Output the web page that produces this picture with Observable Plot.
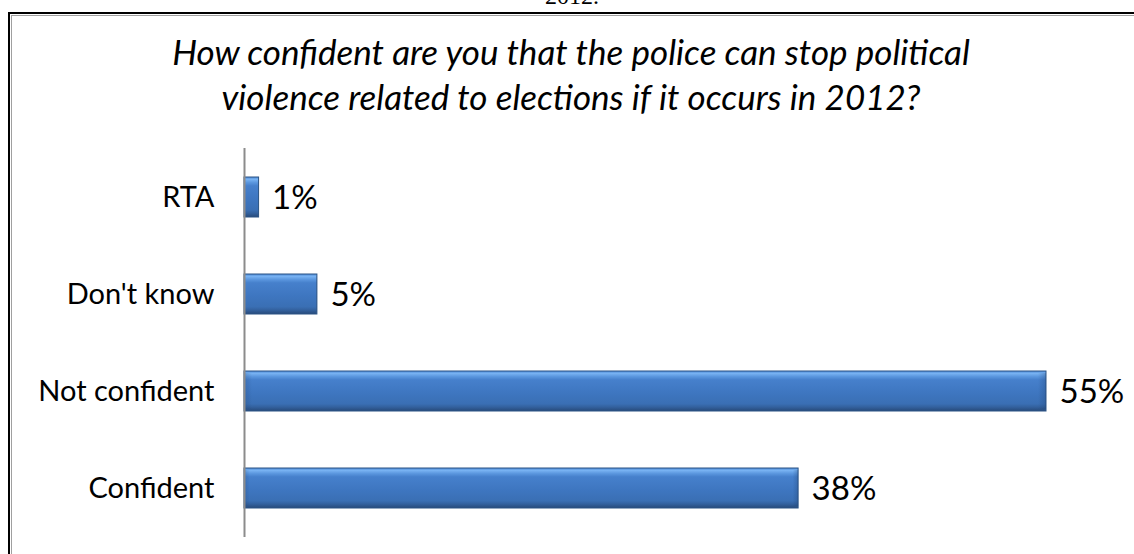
<!DOCTYPE html>
<html>
<head>
<meta charset="utf-8">
<script src="https://cdn.jsdelivr.net/npm/d3@7"></script>
<script src="https://cdn.jsdelivr.net/npm/@observablehq/plot@0.6"></script>
<style>
  html, body { margin: 0; padding: 0; background: #fff; }
  #wrap { position: relative; width: 1134px; height: 554px; overflow: hidden; background: #fff; }
  #above { position: absolute; left: 0; width: 1134px; top: -17px; text-align: center; font-family: "Liberation Serif", "DejaVu Serif", serif; font-size: 24px; color: #000; padding-left: 5px; }
  #frame { position: absolute; left: 8px; top: 12px; width: 1140px; height: 560px; border-left: 2px solid #000; border-top: 2px solid #000; }
  #frame2 { position: absolute; left: 11px; top: 15px; width: 1140px; height: 560px; border-left: 1px solid #a0a0a0; border-top: 1px solid #a0a0a0; }
  #title { position: absolute; left: 0; width: 1134px; top: 29px; text-align: center; font-family: Lato, "Open Sans", sans-serif; font-style: italic; font-size: 35px; line-height: 45px; color: #000; padding-left: 8px; box-sizing: border-box; }
  #chart { position: absolute; left: 0; top: 130px; }
</style>
</head>
<body>
<div id="wrap">
  <div id="above">2012.</div>
  <div id="frame"></div>
  <div id="frame2"></div>
  <div id="title">How confident are you that the police can stop political<br>violence related to elections if it occurs in 2012?</div>
  <div id="chart"></div>
</div>
<script>
const categories = ["RTA", "Don't know", "Not confident", "Confident"];
const values = [1, 5, 55, 38];
const valueLabels = ["1%", "5%", "55%", "38%"];

const data = categories.map((c, i) => ({category: c, value: values[i], label: valueLabels[i]}));

const plot = Plot.plot({
  width: 1134,
  height: 424,
  marginLeft: 244,
  marginRight: 88,
  marginTop: 18,
  marginBottom: 17,
  style: {fontFamily: "Lato, 'Open Sans', sans-serif", background: "transparent", overflow: "visible"},
  x: {domain: [0, 55], axis: null},
  y: {domain: categories, paddingInner: 0.59, paddingOuter: 0.295, label: null},
  marks: [
    Plot.barX(data, {x: "value", y: "category", fill: "url(#barGrad)", stroke: "#2c5586", strokeWidth: 1}),
    Plot.barX(data, {x: "value", y: "category", fill: "url(#barShade)", insetTop: 2, insetBottom: 2}),
    Plot.ruleX([0], {stroke: "#8c8c8c", strokeWidth: 2}),
    Plot.text(data, {x: "value", y: "category", text: "label", textAnchor: "start", dx: 13, dy: 1, fontSize: 33, fill: "#000"}),
    Plot.axisY({tickSize: 0, tickPadding: 30, fontSize: 29, label: null, fill: "#000"})
  ]
});

const svg = d3.select(plot);
const defs = svg.insert("defs", ":first-child");
const g = defs.append("linearGradient").attr("id", "barGrad").attr("x1", 0).attr("y1", 0).attr("x2", 0).attr("y2", 1);
[[0, "#4d8ad6"], [0.06, "#78b2f2"], [0.14, "#5a96de"], [0.22, "#4680cc"], [0.55, "#3e76c0"], [0.82, "#3a6fb4"], [0.9, "#33619e"], [1, "#274a7a"]]
  .forEach(([o, c]) => g.append("stop").attr("offset", o).attr("stop-color", c));
const h = defs.append("linearGradient").attr("id", "barShade").attr("x1", 0).attr("y1", 0).attr("x2", 1).attr("y2", 0);
[[0, "#1e3f6e", 0.25], [0.01, "#1e3f6e", 0], [0.99, "#1e3f6e", 0], [1, "#1e3f6e", 0.3]]
  .forEach(([o, c, a]) => h.append("stop").attr("offset", o).attr("stop-color", c).attr("stop-opacity", a));
svg.selectAll("[aria-label='y-axis tick label'] text").attr("fill", "#000");

document.getElementById("chart").appendChild(plot);
</script>
</body>
</html>
